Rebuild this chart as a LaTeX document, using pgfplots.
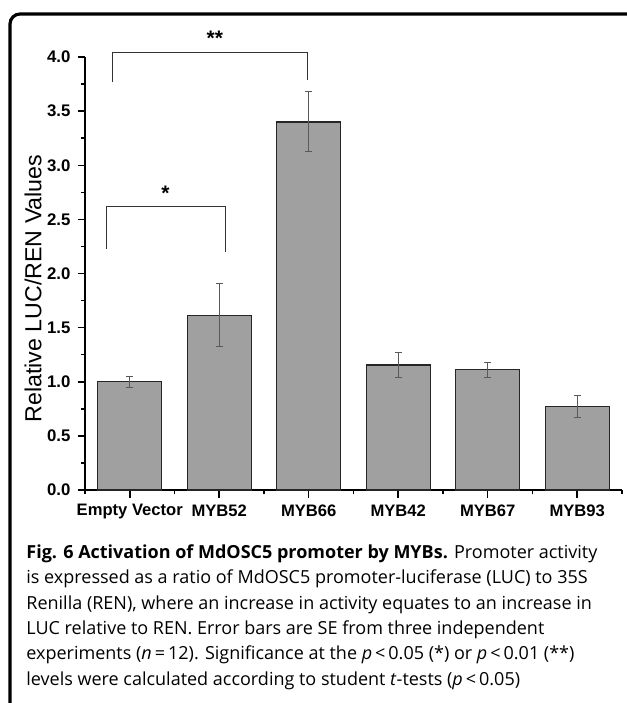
\documentclass[border=0pt]{standalone}
\usepackage{pgfplots}
\pgfplotsset{compat=1.18}
\usepackage{fontspec}
\setmainfont{Open Sans}
\newfontfamily\arial{Liberation Sans}
\definecolor{barfill}{HTML}{A0A0A0}
\begin{document}
\begin{tikzpicture}
\useasboundingbox (0,0) rectangle (313.5pt,-351.5pt);
\draw[line width=1.6pt, rounded corners=5pt] (5pt,-360pt) -- (5pt,-7pt) -- (325pt,-7pt);
\begin{axis}[
  at={(42.5pt,-245pt)}, anchor=south west,
  scale only axis, width=268.5pt, height=216.5pt,
  xmin=-0.5, xmax=5.5, ymin=0, ymax=4,
  axis x line=bottom, axis y line=left,
  axis line style={-, line width=0.75pt},
  clip=false,
  xtick={0,...,5},
  xticklabels={Empty Vector,MYB52,MYB66,MYB42,MYB67,MYB93},
  minor xtick={-0.5,0.5,...,5.5},
  ytick={0,0.5,...,4}, minor ytick={0.25,0.75,...,3.75},
  tick align=outside, major tick length=3.75pt, minor tick length=2pt,
  tick style={black, line width=0.75pt},
  yticklabel style={font=\arial\bfseries\fontsize{8.4}{10}\selectfont},
  xticklabel style={font=\arial\bfseries\fontsize{8.3}{10}\selectfont},
  /pgf/number format/fixed, /pgf/number format/fixed zerofill,
  /pgf/number format/precision=1, /pgf/number format/assume math mode=true,
]
\addplot[ybar, bar width=0.715, fill=barfill, draw=black!85, line width=0.6pt,
  error bars/.cd, y dir=both, y explicit,
  error bar style={line width=0.5pt, black!65},
  error mark options={rotate=90, mark size=1.75pt, line width=0.5pt, black!65}]
  coordinates {
  (0,1.00) +- (0,0.05)
  (1,1.615) +- (0,0.29)
  (2,3.40) +- (0,0.277)
  (3,1.155) +- (0,0.115)
  (4,1.11) +- (0,0.072)
  (5,0.77) +- (0,0.10)
  };
\addplot[sharp plot, no marks, black!80, line width=0.6pt] coordinates {(-0.19,3.77) (-0.19,4.04) (1.99,4.04) (1.99,3.79)};
\addplot[sharp plot, no marks, black!80, line width=0.6pt] coordinates {(-0.26,2.23) (-0.26,2.62) (1.07,2.62) (1.07,2.20)};
\node[anchor=base, inner sep=0, font=\arial\bfseries\fontsize{10.5}{12}\selectfont] at (axis cs:0.95,4.11) {**};
\node[anchor=base, inner sep=0, font=\arial\bfseries\fontsize{10.5}{12}\selectfont] at (axis cs:0.40,2.67) {*};
\end{axis}
\node[rotate=90, font=\arial\fontsize{11.6}{13}\selectfont, inner sep=0] at (16.5pt,-144.25pt) {Relative LUC/REN Values};
\begin{scope}[every node/.style={anchor=base west, inner sep=0, font=\fontsize{9}{10}\selectfont}]
\node at (13pt,-279pt) {\textbf{Fig. 6 Activation of MdOSC5 promoter by MYBs.} Promoter activity};
\node at (13pt,-291.5pt) {is expressed as a ratio of MdOSC5 promoter-luciferase (LUC) to 35S};
\node at (13pt,-304.5pt) {Renilla (REN), where an increase in activity equates to an increase in};
\node at (13pt,-317pt) {LUC relative to REN. Error bars are SE from three independent};
\node at (13pt,-329.5pt) {experiments (\textit{n}\,=\,12). Significance at the \textit{p}\,<\,0.05 (*) or \textit{p}\,<\,0.01 (**)};
\node at (13pt,-342.5pt) {levels were calculated according to student \textit{t}-tests (\textit{p}\,<\,0.05)};
\end{scope}
\end{tikzpicture}
\end{document}
